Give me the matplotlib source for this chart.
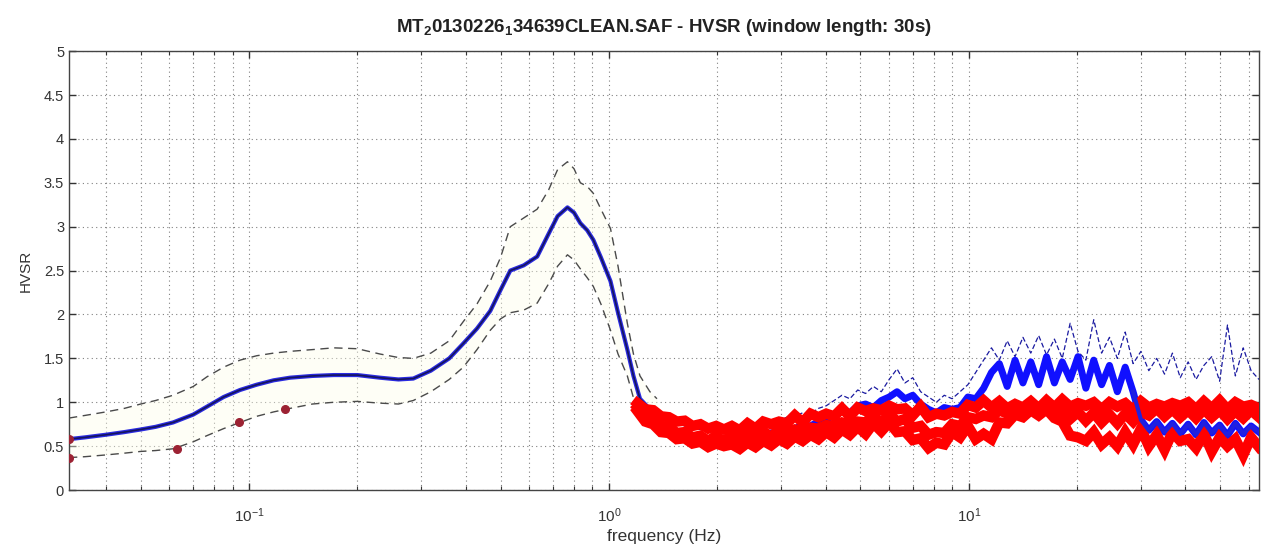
import numpy as np
import matplotlib
matplotlib.use("Agg")
import matplotlib.pyplot as plt

plt.rcParams['font.family'] = ['Liberation Sans', 'DejaVu Sans']
plt.rcParams['mathtext.fontset'] = 'custom'
plt.rcParams['mathtext.rm'] = 'Liberation Sans'
plt.rcParams['mathtext.bf'] = 'Liberation Sans:bold'

# --- low frequency part: smooth mean H/V and mean +/- std ---
lf_freq = [0.0316, 0.035, 0.04, 0.045, 0.05, 0.055, 0.0615, 0.07, 0.0764, 0.085,
           0.0944, 0.105, 0.117, 0.13, 0.15, 0.172, 0.2, 0.231, 0.26, 0.286,
           0.32, 0.36, 0.394, 0.43, 0.468, 0.5, 0.532, 0.58, 0.632, 0.68,
           0.72, 0.767, 0.80, 0.833, 0.87, 0.905, 0.95, 1.01, 1.06, 1.125,
           1.17, 1.22, 1.30, 1.36]
lf_mean = [0.58, 0.60, 0.63, 0.66, 0.69, 0.72, 0.77, 0.86, 0.95, 1.06,
           1.14, 1.20, 1.25, 1.28, 1.30, 1.31, 1.31, 1.28, 1.26, 1.27,
           1.36, 1.50, 1.67, 1.84, 2.04, 2.28, 2.50, 2.56, 2.66, 2.92,
           3.12, 3.22, 3.16, 3.04, 2.96, 2.85, 2.65, 2.38, 2.02, 1.60,
           1.30, 1.04, 0.92, 0.85]
lf_upper = [0.82, 0.85, 0.89, 0.93, 0.98, 1.02, 1.08, 1.18, 1.29, 1.40,
            1.48, 1.53, 1.56, 1.58, 1.60, 1.62, 1.61, 1.55, 1.51, 1.50,
            1.56, 1.70, 1.92, 2.12, 2.38, 2.65, 3.00, 3.10, 3.20, 3.42,
            3.65, 3.74, 3.66, 3.50, 3.46, 3.38, 3.20, 2.98, 2.55, 1.90,
            1.55, 1.30, 1.12, 1.04]
lf_lower = [0.37, 0.38, 0.40, 0.42, 0.44, 0.45, 0.47, 0.55, 0.62, 0.70,
            0.77, 0.84, 0.89, 0.93, 0.98, 1.00, 1.01, 0.99, 0.98, 1.02,
            1.12, 1.26, 1.40, 1.60, 1.82, 1.95, 2.02, 2.05, 2.13, 2.35,
            2.55, 2.68, 2.62, 2.52, 2.42, 2.32, 2.12, 1.82, 1.55, 1.30,
            1.05, 0.92, 0.84, 0.78]

# flagged points at the low end
dot_freq = [0.0316, 0.0316, 0.063, 0.094, 0.126]
dot_val = [0.58, 0.37, 0.47, 0.77, 0.92]

# --- high frequency part (1.2 - 64 Hz), 80 samples on a log grid ---
hf_freq = np.geomspace(1.2, 64, 80)
red_top = [0.99, 0.92, 0.91, 0.84, 0.83, 0.78, 0.79, 0.73, 0.75, 0.70,
           0.73, 0.69, 0.73, 0.68, 0.76, 0.70, 0.78, 0.75, 0.78, 0.76,
           0.85, 0.77, 0.87, 0.83, 0.87, 0.84, 0.93, 0.84, 0.94, 0.90,
           0.93, 0.91, 0.96, 0.92, 0.93, 0.85, 0.95, 0.83, 0.87, 0.85,
           0.89, 0.87, 0.97, 0.94, 1.02, 0.94, 1.01, 0.93, 0.98, 0.94,
           1.01, 0.93, 1.02, 0.94, 1.03, 0.95, 0.99, 0.96, 1.00, 0.92,
           1.00, 0.95, 0.99, 0.91, 1.01, 0.94, 0.98, 0.95, 0.99, 0.96,
           1.00, 0.92, 1.01, 0.93, 1.02, 0.92, 1.00, 0.95, 0.97, 0.93]
red_mid = [0.94, 0.84, 0.82, 0.73, 0.72, 0.65, 0.66, 0.60, 0.62, 0.56,
           0.62, 0.55, 0.63, 0.56, 0.64, 0.58, 0.67, 0.60, 0.69, 0.65,
           0.69, 0.67, 0.71, 0.70, 0.74, 0.73, 0.77, 0.75, 0.78, 0.77,
           0.85, 0.76, 0.87, 0.78, 0.81, 0.71, 0.73, 0.63, 0.66, 0.65,
           0.75, 0.73, 0.83, 0.81, 0.85, 0.83, 0.91, 0.87, 0.92, 0.88,
           0.95, 0.87, 0.96, 0.88, 0.91, 0.81, 0.89, 0.79, 0.88, 0.77,
           0.86, 0.76, 0.87, 0.78, 0.89, 0.85, 0.93, 0.84, 0.92, 0.83,
           0.91, 0.82, 0.92, 0.83, 0.91, 0.81, 0.90, 0.82, 0.91, 0.83]
red_low = [0.90, 0.78, 0.75, 0.66, 0.65, 0.58, 0.59, 0.53, 0.55, 0.49,
           0.53, 0.50, 0.52, 0.47, 0.54, 0.49, 0.56, 0.51, 0.58, 0.53,
           0.61, 0.56, 0.63, 0.58, 0.66, 0.60, 0.69, 0.63, 0.72, 0.64,
           0.76, 0.67, 0.77, 0.66, 0.67, 0.57, 0.59, 0.48, 0.54, 0.52,
           0.66, 0.60, 0.73, 0.58, 0.64, 0.58, 0.77, 0.76, 0.86, 0.83,
           0.91, 0.85, 0.92, 0.82, 0.78, 0.62, 0.60, 0.56, 0.66, 0.52,
           0.60, 0.50, 0.66, 0.52, 0.70, 0.50, 0.63, 0.46, 0.66, 0.56,
           0.58, 0.48, 0.64, 0.44, 0.60, 0.50, 0.58, 0.40, 0.60, 0.49]
blue_mean = [0.95, 0.86, 0.79, 0.73, 0.68, 0.65, 0.62, 0.60, 0.58, 0.57,
             0.58, 0.57, 0.60, 0.59, 0.62, 0.61, 0.64, 0.65, 0.67, 0.70,
             0.70, 0.74, 0.73, 0.78, 0.80, 0.86, 0.90, 0.88, 0.96, 0.98,
             0.94, 1.02, 1.06, 1.12, 1.04, 1.08, 0.98, 0.92, 0.88, 0.94,
             0.92, 0.94, 1.06, 1.04, 1.16, 1.34, 1.44, 1.18, 1.48, 1.22,
             1.46, 1.20, 1.52, 1.22, 1.46, 1.26, 1.52, 1.16, 1.48, 1.20,
             1.42, 1.12, 1.40, 1.12, 0.80, 0.68, 0.78, 0.66, 0.76, 0.64,
             0.75, 0.63, 0.77, 0.65, 0.74, 0.62, 0.76, 0.64, 0.73, 0.66]
blue_upper = [1.03, 0.96, 0.90, 0.84, 0.80, 0.76, 0.73, 0.70, 0.69, 0.67,
              0.68, 0.66, 0.70, 0.68, 0.72, 0.71, 0.75, 0.77, 0.79, 0.83,
              0.84, 0.88, 0.87, 0.93, 0.96, 1.02, 1.08, 1.04, 1.14, 1.10,
              1.18, 1.12, 1.26, 1.38, 1.22, 1.28, 1.12, 1.06, 1.00, 1.08,
              1.04, 1.12, 1.20, 1.34, 1.48, 1.62, 1.48, 1.70, 1.52, 1.74,
              1.56, 1.76, 1.54, 1.72, 1.50, 1.90, 1.58, 1.48, 1.94, 1.56,
              1.74, 1.50, 1.80, 1.44, 1.58, 1.36, 1.50, 1.32, 1.56, 1.28,
              1.46, 1.26, 1.42, 1.52, 1.24, 1.88, 1.30, 1.62, 1.36, 1.26]

fig = plt.figure(figsize=(12.63, 5.5), dpi=100)
ax = fig.add_axes([0.0546, 0.109, 0.9422, 0.798])

# faint band between the std curves
ax.fill_between(lf_freq, lf_lower, lf_upper, color='#fdfdea', alpha=0.4, lw=0, zorder=1)

ax.plot(lf_freq, lf_upper, color='#4a4a4a', ls=(0, (6, 4)), lw=1.0, zorder=3)
ax.plot(lf_freq, lf_lower, color='#4a4a4a', ls=(0, (6, 4)), lw=1.0, zorder=3)
ax.plot(lf_freq, lf_mean, color='#2a2ae0', lw=3.0, zorder=4)
ax.plot(lf_freq, lf_mean, color='#15155e', lw=1.2, zorder=5)
ax.plot(dot_freq, dot_val, ls='none', marker='o', ms=5.5, color='#9c2233', zorder=6)

# noisy high frequency part
ax.plot(hf_freq, blue_upper, color='#1a1aa0', ls=(0, (4, 2)), lw=0.9, zorder=3)
ax.plot(hf_freq, blue_mean, color='#1010ff', lw=5.0, zorder=4)
for curve in (red_top, red_mid, red_low):
    ax.plot(hf_freq, curve, color='#ff0000', lw=7.5, solid_joinstyle='miter', zorder=5)
# the mean sits above the red band beyond ~28 Hz
ax.plot(hf_freq[63:], blue_mean[63:], color='#2020e0', lw=3.0, zorder=6)

ax.set_xscale('log')
ax.set_xlim(0.0316, 64)
ax.set_ylim(0, 5)
ax.set_yticks(np.arange(0, 5.01, 0.5))
ax.set_yticklabels(['0', '0.5', '1', '1.5', '2', '2.5', '3', '3.5', '4', '4.5', '5'])

ax.grid(True, which='major', color='#808080', ls=(0, (1, 3)), lw=0.8)
ax.grid(True, which='minor', axis='x', color='#808080', ls=(0, (1, 3)), lw=0.8)
ax.set_axisbelow(True)

ax.tick_params(which='both', direction='in', top=True, right=True, colors='#333333',
               labelsize=10.5)
ax.tick_params(axis='x', which='major', pad=12, labelsize=11)
ax.tick_params(which='major', length=5, width=1)
ax.tick_params(which='minor', length=3, width=0.8)
for s in ax.spines.values():
    s.set_color('#444444')
    s.set_linewidth(1.0)

ax.set_xlabel('frequency (Hz)', fontsize=12.5, color='#333333', labelpad=3)
ax.set_ylabel('HVSR', fontsize=11, color='#333333', labelpad=8)
ax.set_title(r'MT$_\mathbf{2}$0130226$_\mathbf{1}$34639CLEAN.SAF - HVSR (window length: 30s)',
             fontsize=13.5, fontweight='bold', color='#222222', pad=14)

fig.savefig('out.png', dpi=100)
